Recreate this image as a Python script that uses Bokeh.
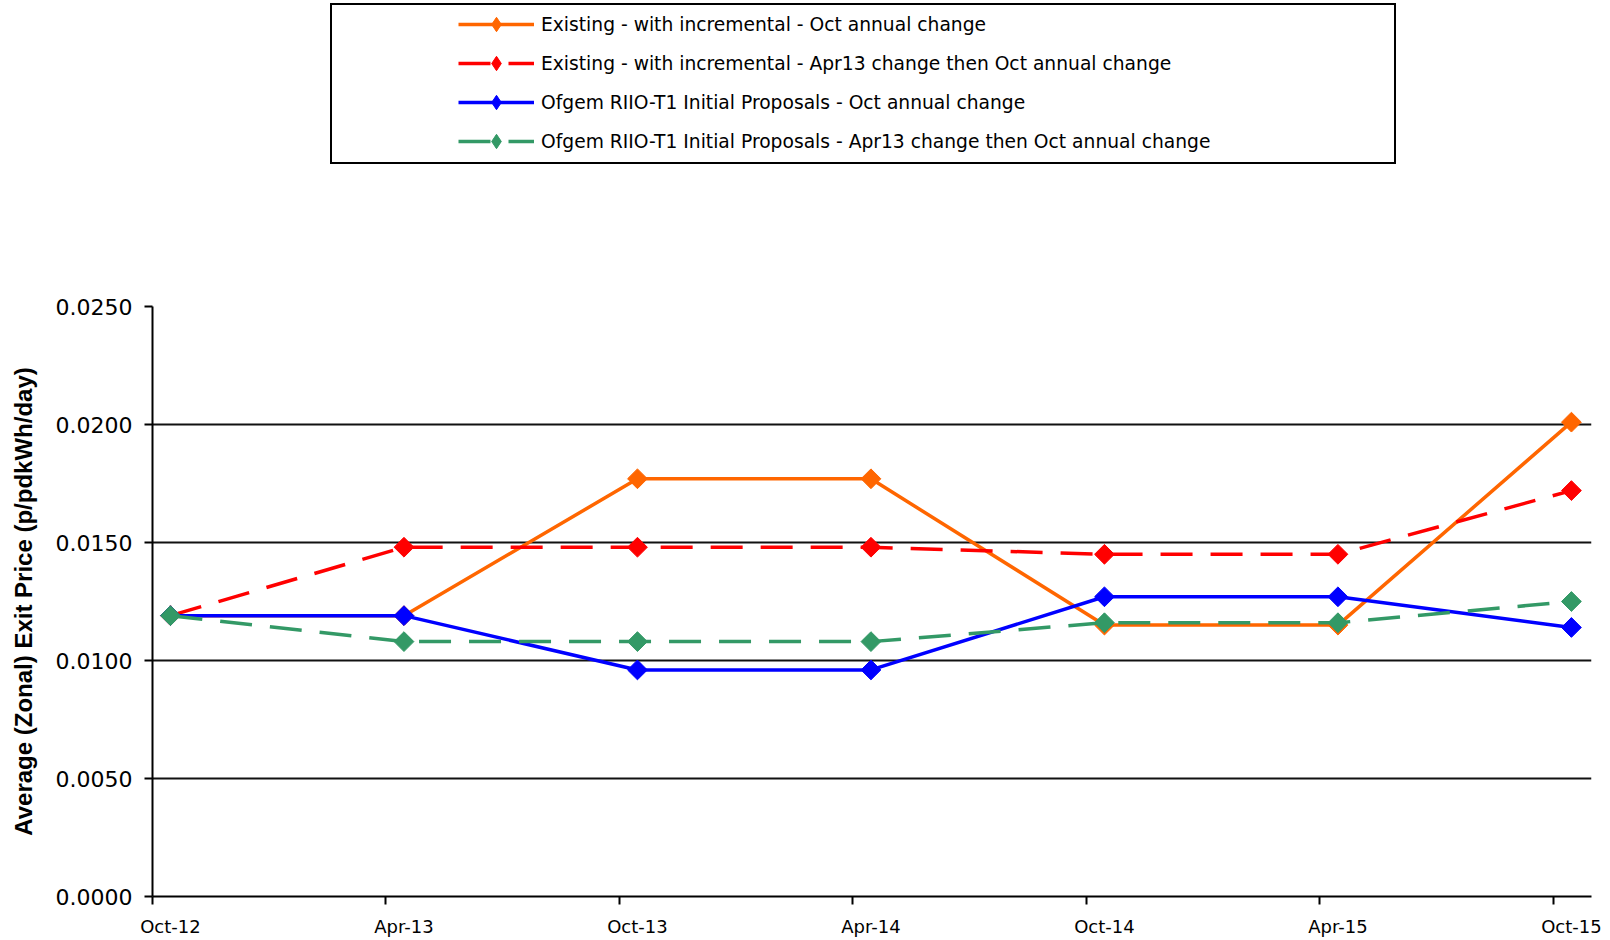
import math
from bokeh.plotting import figure
from bokeh.layouts import column
from bokeh.models import Range1d, FixedTicker, Legend, LegendItem, NumeralTickFormatter
from bokeh.embed import file_html
from bokeh.resources import INLINE

# ---- data ----
categories = ["Oct-12", "Apr-13", "Oct-13", "Apr-14", "Oct-14", "Apr-15", "Oct-15"]
existing_oct = [0.0119, 0.0119, 0.0177, 0.0177, 0.0115, 0.0115, 0.0201]
existing_apr = [0.0119, 0.0148, 0.0148, 0.0148, 0.0145, 0.0145, 0.0172]
ofgem_oct = [0.0119, 0.0119, 0.0096, 0.0096, 0.0127, 0.0127, 0.0114]
ofgem_apr = [0.0119, 0.0108, 0.0108, 0.0108, 0.0116, 0.0116, 0.0125]
series_names = [
    "Existing - with incremental - Oct annual change",
    "Existing - with incremental - Apr13 change then Oct annual change",
    "Ofgem RIIO-T1 Initial Proposals - Oct annual change",
    "Ofgem RIIO-T1 Initial Proposals - Apr13 change then Oct annual change",
]
y_ticks = [0.0, 0.005, 0.010, 0.015, 0.020, 0.025]
y_label = "Average (Zonal) Exit Price (p/pdkWh/day)"

colors = ["#FF6600", "#FF0000", "#0000FF", "#339966"]
dashes = ["solid", "32 18", "solid", "32 18"]
series = [existing_oct, existing_apr, ofgem_oct, ofgem_apr]

x = list(range(len(categories)))
TICK_SHIFT = 0.077  # tick marks sit slightly left of the category points

TOP_H = 290

# ---------- legend strip (top) ----------
# ranges chosen so the series drawn here stay off-canvas; only the legend shows
top = figure(width=1610, height=TOP_H, output_backend="svg", toolbar_location=None,
             x_range=Range1d(100, 200), y_range=Range1d(100, 200),
             x_axis_location=None, y_axis_location=None,
             min_border_left=0, min_border_right=0, min_border_top=0, min_border_bottom=0)
top.outline_line_color = None
top.xgrid.visible = False
top.ygrid.visible = False
top.background_fill_color = "white"
top.border_fill_color = "white"

box_r = top.scatter(x=x, y=existing_oct, alpha=0)
box = Legend(items=[LegendItem(label=" ", renderers=[box_r])],
             location=(178, TOP_H - 164), margin=0, padding=0, spacing=0,
             glyph_width=1, glyph_height=157, label_width=1061, label_height=157,
             label_standoff=0, border_line_color="black", border_line_width=2,
             border_line_alpha=1.0,
             background_fill_color="white", background_fill_alpha=1.0)
top.add_layout(box, "center")

leg_items = []
for name, vals, col, dash in zip(series_names, series, colors, dashes):
    ln = top.line(x, vals, line_color=col, line_width=3.5, line_dash=dash)
    pts = top.scatter(x, vals, marker="diamond", size=14,
                      fill_color=col, line_color=col)
    leg_items.append(LegendItem(label=name, renderers=[ln, pts]))

legend = Legend(items=leg_items, location=(306, TOP_H - 159), margin=0, padding=0, spacing=3,
                glyph_width=76, glyph_height=36, label_height=36, label_standoff=7,
                label_text_font="DejaVu Sans", label_text_font_size="18.7px",
                label_text_color="black", border_line_alpha=0, background_fill_alpha=0)
top.add_layout(legend, "center")

# ---------- main chart ----------
p = figure(width=1610, height=940 - TOP_H, output_backend="svg", toolbar_location=None,
           x_range=Range1d(-TICK_SHIFT, 6.086), y_range=Range1d(0, 0.025),
           min_border_left=152, min_border_right=19, min_border_top=306 - TOP_H,
           min_border_bottom=44)
p.outline_line_color = None
p.background_fill_color = "white"
p.border_fill_color = "white"

p.xgrid.visible = False
p.ygrid.ticker = FixedTicker(ticks=y_ticks[1:-1])
p.ygrid.grid_line_color = "#111111"
p.ygrid.grid_line_width = 2

# labels at the category points, tick marks (as minor ticks) slightly to the left
p.xaxis.ticker = FixedTicker(ticks=x, minor_ticks=[i - TICK_SHIFT for i in x])
p.xaxis.major_label_overrides = {i: c for i, c in zip(x, categories)}
p.xaxis.major_label_text_font = "DejaVu Sans"
p.xaxis.major_label_text_font_size = "18px"
p.xaxis.major_label_text_color = "black"
p.xaxis.major_label_standoff = 11
p.xaxis.major_tick_out = 8
p.xaxis.major_tick_in = 0
p.xaxis.major_tick_line_color = None
p.xaxis.minor_tick_out = 8
p.xaxis.minor_tick_in = 0
p.xaxis.minor_tick_line_width = 2
p.xaxis.minor_tick_line_color = "black"
p.xaxis.axis_line_width = 2
p.xaxis.axis_line_color = "black"

p.yaxis.ticker = FixedTicker(ticks=y_ticks)
p.yaxis.formatter = NumeralTickFormatter(format="0.0000")
p.yaxis.major_label_text_font = "DejaVu Sans"
p.yaxis.major_label_text_font_size = "22px"
p.yaxis.major_label_text_color = "black"
p.yaxis.major_label_standoff = 12
p.yaxis.major_tick_out = 8
p.yaxis.major_tick_in = 0
p.yaxis.minor_tick_line_color = None
p.yaxis.axis_line_width = 2
p.yaxis.axis_line_color = "black"
p.yaxis.major_tick_line_width = 2
p.yaxis.major_tick_line_color = "black"
p.yaxis.axis_label = y_label
p.yaxis.axis_label_text_font = "Liberation Sans"
p.yaxis.axis_label_text_font_size = "24px"
p.yaxis.axis_label_text_font_style = "bold"
p.yaxis.axis_label_text_color = "black"
p.yaxis.axis_label_standoff = 16

for name, vals, col, dash in zip(series_names, series, colors, dashes):
    p.line(x, vals, line_color=col, line_width=3.5, line_dash=dash)
    p.scatter(x, vals, marker="square", angle=math.pi / 4, size=14,
              fill_color=col, line_color=col)

layout = column(top, p, spacing=0)
open("out.html", "w").write(file_html(layout, INLINE))
